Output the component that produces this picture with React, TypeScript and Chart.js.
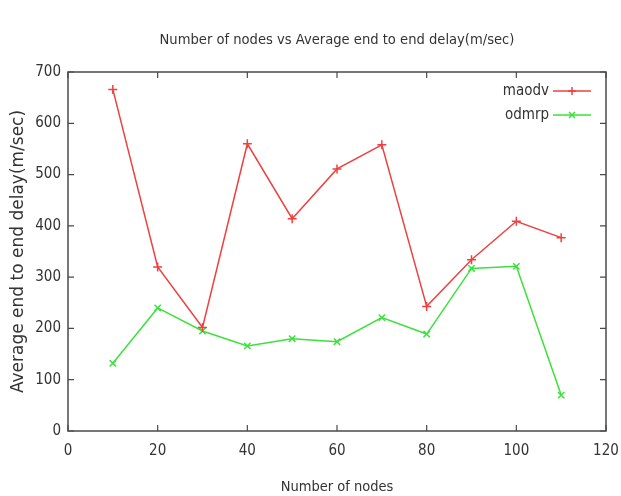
import React, { useEffect, useRef } from "react";
import { Chart, registerables } from "chart.js";

Chart.register(...registerables);

const nodes = [10, 20, 30, 40, 50, 60, 70, 80, 90, 100, 110];
const maodv = [666, 320, 202, 560, 414, 511, 558, 243, 334, 409, 377];
const odmrp = [132, 240, 195, 166, 180, 174, 221, 189, 317, 321, 70];
const seriesNames = ["maodv", "odmrp"];
const seriesColors = ["rgb(238,64,64)", "rgb(60,225,60)"];
const seriesMarkers = ["cross", "crossRot"];
const chartTitle = "Number of nodes vs Average end to end delay(m/sec)";
const xTitle = "Number of nodes";
const yTitle = "Average end to end delay(m/sec)";

const COND = "'DejaVu Sans Condensed', 'DejaVu Sans', sans-serif";
const REG = "'DejaVu Sans', sans-serif";
const TEXT = "#333333";

function drawMarker(ctx: CanvasRenderingContext2D, style: string, x: number, y: number, r: number) {
  ctx.beginPath();
  if (style === "cross") {
    ctx.moveTo(x - r, y);
    ctx.lineTo(x + r, y);
    ctx.moveTo(x, y - r);
    ctx.lineTo(x, y + r);
  } else {
    const d = r * 0.75;
    ctx.moveTo(x - d, y - d);
    ctx.lineTo(x + d, y + d);
    ctx.moveTo(x + d, y - d);
    ctx.lineTo(x - d, y + d);
  }
  ctx.stroke();
}

const framePlugin = {
  id: "gnuFrame",
  beforeDatasetsDraw(chart: any) {
    const { ctx, chartArea: a, scales } = chart;
    ctx.save();
    ctx.strokeStyle = "#4a4a4a";
    ctx.lineWidth = 1.5;
    ctx.strokeRect(a.left, a.top, a.right - a.left, a.bottom - a.top);
    ctx.lineWidth = 1.2;
    const len = 6;
    ctx.beginPath();
    scales.x.ticks.forEach((t: any) => {
      const px = scales.x.getPixelForValue(t.value);
      ctx.moveTo(px, a.bottom);
      ctx.lineTo(px, a.bottom - len);
      ctx.moveTo(px, a.top);
      ctx.lineTo(px, a.top + len);
    });
    scales.y.ticks.forEach((t: any) => {
      const py = scales.y.getPixelForValue(t.value);
      ctx.moveTo(a.left, py);
      ctx.lineTo(a.left + len, py);
      ctx.moveTo(a.right, py);
      ctx.lineTo(a.right - len, py);
    });
    ctx.stroke();
    ctx.restore();
  },
  afterDraw(chart: any) {
    const { ctx, chartArea: a } = chart;
    ctx.save();
    ctx.fillStyle = TEXT;
    ctx.font = `14.6px ${COND}`;
    ctx.textAlign = "center";
    ctx.textBaseline = "middle";
    ctx.fillText(chartTitle, (a.left + a.right) / 2, 40);
    chart.data.datasets.forEach((ds: any, i: number) => {
      const y = a.top + 19 + i * 24;
      ctx.fillStyle = TEXT;
      ctx.font = `15px ${COND}`;
      ctx.textAlign = "right";
      ctx.fillText(ds.label, a.right - 57, y);
      ctx.strokeStyle = ds.borderColor;
      ctx.lineWidth = 1.5;
      ctx.beginPath();
      ctx.moveTo(a.right - 53, y);
      ctx.lineTo(a.right - 15, y);
      ctx.stroke();
      drawMarker(ctx, ds.pointStyle, a.right - 34, y, 4);
    });
    ctx.restore();
  },
};

export default function App() {
  const ref = useRef<HTMLCanvasElement | null>(null);
  useEffect(() => {
    if (!ref.current) return;
    const datasets = [maodv, odmrp].map((vals, i) => ({
      label: seriesNames[i],
      data: nodes.map((n, j) => ({ x: n, y: vals[j] })),
      borderColor: seriesColors[i],
      backgroundColor: seriesColors[i],
      borderWidth: 1.5,
      pointStyle: seriesMarkers[i],
      pointRadius: 4.5,
      pointBorderWidth: 1.5,
      tension: 0,
    }));
    const chart = new Chart(ref.current, {
      type: "line",
      data: { datasets },
      options: {
        responsive: false,
        animation: false,
        layout: { padding: { top: 72, right: 15, left: 0, bottom: 0 } },
        plugins: { legend: { display: false }, title: { display: false }, tooltip: { enabled: false } },
        scales: {
          x: {
            type: "linear",
            min: 0,
            max: 120,
            ticks: { stepSize: 20, color: TEXT, font: { family: COND, size: 15 }, padding: 11 },
            grid: { display: false, drawTicks: false },
            border: { display: false },
            title: { display: true, text: xTitle, color: TEXT, font: { family: COND, size: 14.5 }, padding: { top: 0, bottom: 0 } },
            afterFit: (s: any) => { s.height = 65; s.paddingLeft = 0; s.paddingRight = 0; },
          },
          y: {
            type: "linear",
            min: 0,
            max: 700,
            ticks: { stepSize: 100, color: TEXT, font: { family: COND, size: 15 }, padding: 7 },
            grid: { display: false, drawTicks: false },
            border: { display: false },
            title: { display: true, text: yTitle, color: TEXT, font: { family: REG, size: 17 }, padding: { top: 8, bottom: 0 } },
            afterFit: (s: any) => { s.width = 68; s.paddingTop = 0; s.paddingBottom = 0; },
          },
        },
      },
      plugins: [framePlugin],
    });
    return () => chart.destroy();
  }, []);
  return (
    <div style={{ position: "fixed", left: 0, top: 0, width: 621, height: 496, background: "#fff" }}>
      <canvas ref={ref} width={621} height={496} style={{ width: 621, height: 496, display: "block" }} />
    </div>
  );
}
